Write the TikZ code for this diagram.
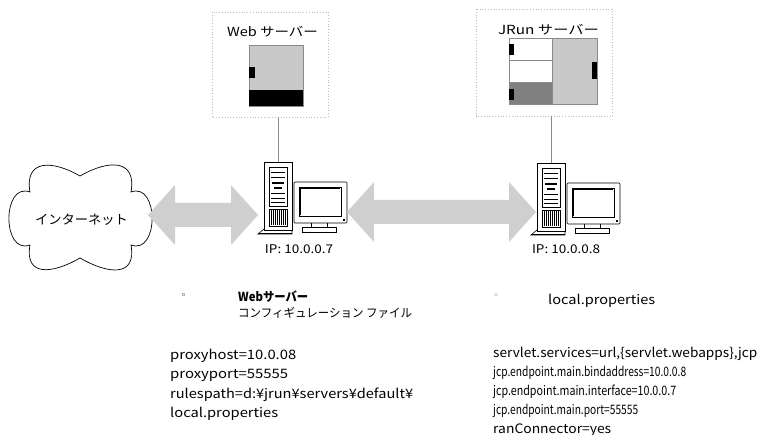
\documentclass[tikz,border=0pt]{standalone}
\usepackage{fontspec}
\usepackage{graphicx}
\setmainfont{Noto Sans CJK JP}
\usetikzlibrary{calc}

\definecolor{arrowgray}{HTML}{CFCFCF}
\definecolor{panelgray}{HTML}{C8C8C8}
\definecolor{darkpanel}{HTML}{808080}
\definecolor{framegray}{HTML}{BDBDBD}
\definecolor{linkgray}{HTML}{8C8C8C}
\definecolor{edgegray}{HTML}{8A8A8A}

% set a line of text to a given width, keeping its height
\newcommand\fitto[2]{\resizebox{#1}{\height}{#2}}

% wide grey double-headed block arrow between two points on one level
\newcommand\blockarrow[2]{%
  \fill[arrowgray] (#1) -- ($(#1)+(27,30)$) -- ($(#1)+(27,12)$)
    -- ($(#2)+(-27,12)$) -- ($(#2)+(-27,30)$) -- (#2)
    -- ($(#2)+(-27,-30)$) -- ($(#2)+(-27,-12)$)
    -- ($(#1)+(27,-12)$) -- ($(#1)+(27,-30)$) -- cycle;}

\tikzset{
  hostframe/.style={draw=framegray, dotted, line width=0.8pt},
  link/.style={draw=linkgray, line width=0.7pt},
  panel/.style={draw=edgegray, line width=0.5pt},
  title/.style={inner sep=0, anchor=base, font=\fontsize{12.5}{15}\selectfont},
  iplabel/.style={inner sep=0, anchor=base, font=\fontsize{12}{14}\selectfont},
  codeline/.style={inner sep=0, anchor=base west, font=\fontsize{13}{15}\selectfont},
  pics/computer/.style={code={
    % tower
    \draw[line width=0.6pt, fill=white] (-6,-72) -- (0,-67) -- (28,-67) -- (28,-72) -- cycle;
    \draw[line width=1.4pt] (-6,-71.5) -- (28,-71.5);
    \draw[line width=0.6pt, fill=white] (0,0) rectangle (28,-68);
    \draw[line width=0.5pt] (5,-5) rectangle (23,-44);
    \foreach \y in {-10,-15,-31,-36,-40}
      \draw[line width=0.4pt] (7,\y) -- (21,\y);
    \draw[line width=1.2pt] (8,-21) -- (20,-21);
    \draw[line width=1.2pt] (10,-26) -- (18,-26);
    \draw[line width=0.5pt] (5,-47) rectangle (23,-64);
    \foreach \x in {7,9,...,21}
      \draw[line width=0.35pt] (\x,-48) -- (\x,-63);
    % monitor
    \draw[line width=0.6pt, fill=white] (47,-60) rectangle (63,-65);
    \draw[line width=0.6pt, fill=white] (38,-65) rectangle (72,-70);
    \draw[line width=0.6pt, fill=white, rounded corners=1pt] (30,-20) rectangle (83,-61);
    \draw[line width=0.6pt] (35,-25) rectangle (77,-54);
    \draw[line width=2.4pt] (36.2,-52.8) -- (36.2,-26.2) -- (76,-26.2);
    \fill (79,-57.3) rectangle (80.6,-58.6);
    \coordinate (-top) at (14,0);
  }}
}

\begin{document}
\begin{tikzpicture}[x=1pt, y=1pt]
  \useasboundingbox (0,0) rectangle (758,-435);

  % ---- web server block ----
  \draw[hostframe] (212,-12) rectangle (328,-117);
  \node[title] (webtitle) at (272.5,-36.5) {\fitto{91pt}{Web サーバー}};
  \draw[panel, fill=panelgray] (249,-45) rectangle (303,-106);
  \fill (249,-90) rectangle (303,-106);
  \fill (249,-67) rectangle (255,-78);
  \coordinate (webframe) at (278,-117);

  % ---- JRun server block ----
  \draw[hostframe] (476,-9) rectangle (612,-116);
  \node[title] (jruntitle) at (548.5,-35) {\fitto{101pt}{JRun サーバー}};
  \draw[panel, fill=panelgray] (552,-38) rectangle (597,-104);
  \draw[panel, fill=white] (509,-38) rectangle (552,-60);
  \draw[panel, fill=darkpanel] (509,-82) rectangle (552,-104);
  \draw[panel] (509,-38) rectangle (597,-104);
  \fill (509,-44) rectangle (514,-55);
  \fill (509,-89) rectangle (514,-100);
  \fill (592,-62) rectangle (597,-79);
  \coordinate (jrunframe) at (551,-116);

  % ---- computers ----
  \pic (webpc) at (264,-162) {computer};
  \pic (jrunpc) at (537,-163) {computer};
  \node[iplabel] (webip) at (299,-254) {\fitto{68pt}{IP: 10.0.0.7}};
  \node[iplabel] (jrunip) at (566,-254) {\fitto{68pt}{IP: 10.0.0.8}};

  \draw[link] (webframe) -- (webpc-top);
  \draw[link] (jrunframe) -- (jrunpc-top);

  % ---- internet cloud ----
  \draw[line width=0.7pt]
    (30,-192) to[out=100, in=150, looseness=1.6] (80,-176)
              to[out=30, in=80, looseness=1.6] (131,-192)
              to[out=20, in=-20, looseness=1.45] (131,-245)
              to[out=-80, in=-30, looseness=1.6] (80,-258)
              to[out=-150, in=-100, looseness=1.6] (30,-245)
              to[out=200, in=160, looseness=1.45] cycle;
  \node[inner sep=0, anchor=base, font=\fontsize{13}{15}\selectfont] (net) at (81.5,-225) {\fitto{93pt}{インターネット}};

  % ---- links between the hosts ----
  \coordinate (netport) at (148,-215);
  \coordinate (webin) at (258,-215);
  \coordinate (webout) at (347,-212);
  \coordinate (jrunin) at (536,-212);
  \blockarrow{netport}{webin}
  \blockarrow{webout}{jrunin}

  % ---- configuration listings ----
  \draw[draw=gray!60, line width=0.4pt] (182,-293) rectangle (184.5,-295.5);
  \node[codeline, font=\bfseries\fontsize{12.5}{15}\selectfont] (webcfg) at (238,-302) {\fitto{70pt}{Webサーバー}};
  \node[codeline, font=\fontsize{12}{15}\selectfont] (webcfg2) at (238,-318) {\fitto{174pt}{コンフィギュレーション ファイル}};
  \node[codeline] (w1) at (170,-360) {\fitto{126pt}{proxyhost=10.0.08}};
  \node[codeline] (w2) at (170,-379) {\fitto{118pt}{proxyport=55555}};
  \node[codeline] (w3) at (170,-399) {\fitto{243pt}{rulespath=d:¥jrun¥servers¥default¥}};
  \node[codeline] (w4) at (170,-418) {\fitto{108pt}{local.properties}};

  \draw[draw=gray!60, line width=0.4pt] (496,-294.5) circle (1.4);
  \node[codeline] (jruncfg) at (548,-305) {\fitto{107pt}{local.properties}};
  \node[codeline] (j1) at (493,-358) {\fitto{264pt}{servlet.services=url,\{servlet.webapps\},jcp}};
  \node[codeline] (j2) at (493,-377) {\fitto{193pt}{jcp.endpoint.main.bindaddress=10.0.0.8}};
  \node[codeline] (j3) at (493,-396) {\fitto{183pt}{jcp.endpoint.main.interface=10.0.0.7}};
  \node[codeline] (j4) at (493,-415) {\fitto{145pt}{jcp.endpoint.main.port=55555}};
  \node[codeline] (j5) at (493,-434) {\fitto{118pt}{ranConnector=yes}};
\end{tikzpicture}
\end{document}
